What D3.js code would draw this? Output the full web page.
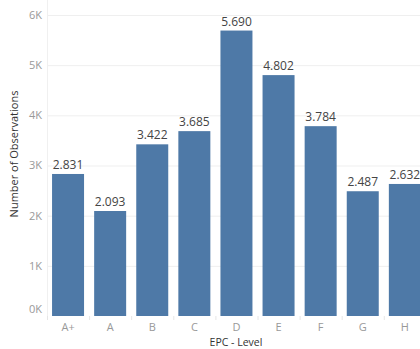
<!DOCTYPE html>
<html>
<head>
<meta charset="utf-8">
<script src="https://cdn.jsdelivr.net/npm/d3@7"></script>
<style>
  body { margin: 0; background: #fff; }
  text { font-family: "Open Sans", "Noto Sans", sans-serif; }
</style>
</head>
<body>
<svg id="chart" width="420" height="349"></svg>
<script>
const levels = ["A+", "A", "B", "C", "D", "E", "F", "G", "H"];
const observations = [2831, 2093, 3422, 3685, 5690, 4802, 3784, 2487, 2632];
const yTicks = [0, 1000, 2000, 3000, 4000, 5000, 6000];

const svg = d3.select("#chart");
const plotLeft = 47, plotBottom = 316, plotTop = 15;

const x = d3.scaleBand()
  .domain(levels)
  .range([plotLeft, plotLeft + 42.1 * levels.length])
  .paddingInner(0.24)
  .paddingOuter(0.12);

const y = d3.scaleLinear()
  .domain([0, 6000])
  .range([plotBottom, plotTop]);

// Gridlines
svg.append("g")
  .selectAll("line")
  .data(yTicks.filter(d => d > 0))
  .enter().append("line")
  .attr("x1", plotLeft).attr("x2", 420)
  .attr("y1", d => y(d) + 0.5).attr("y2", d => y(d) + 0.5)
  .attr("stroke", "#efefef");

// Axis line
svg.append("line")
  .attr("x1", plotLeft + 0.5).attr("x2", plotLeft + 0.5)
  .attr("y1", 0).attr("y2", plotBottom)
  .attr("stroke", "#f0f0f0");

// Y tick labels
svg.append("g")
  .selectAll("text")
  .data(yTicks)
  .enter().append("text")
  .attr("x", plotLeft - 5)
  .attr("y", d => d === 0 ? y(d) - 7 : y(d))
  .attr("dy", "0.35em")
  .attr("text-anchor", "end")
  .attr("font-size", 11)
  .attr("fill", "#999")
  .text(d => (d / 1000) + "K");

// Bars
svg.append("g")
  .selectAll("rect")
  .data(levels)
  .enter().append("rect")
  .attr("x", d => x(d))
  .attr("y", (d, i) => y(observations[i]))
  .attr("width", x.bandwidth())
  .attr("height", (d, i) => plotBottom - y(observations[i]))
  .attr("fill", "#4e79a7");

// Value labels
const fmt = d3.formatLocale({decimal: ",", thousands: ".", grouping: [3], currency: ["", ""]}).format(",");
svg.append("g")
  .selectAll("text")
  .data(levels)
  .enter().append("text")
  .attr("x", d => x(d) + x.bandwidth() / 2)
  .attr("y", (d, i) => y(observations[i]) - 5)
  .attr("text-anchor", "middle")
  .attr("font-size", 12)
  .attr("fill", "#444")
  .text((d, i) => fmt(observations[i]));

// Category separators
const step = x.step();
svg.append("g")
  .selectAll("line")
  .data(levels)
  .enter().append("line")
  .attr("x1", d => x(d) - x.paddingOuter() * step + 0.5)
  .attr("x2", d => x(d) - x.paddingOuter() * step + 0.5)
  .attr("y1", plotBottom).attr("y2", plotBottom + 4)
  .attr("stroke", "#e6e6e6");

// X labels
svg.append("g")
  .selectAll("text")
  .data(levels)
  .enter().append("text")
  .attr("x", d => x(d) + x.bandwidth() / 2)
  .attr("y", 331)
  .attr("text-anchor", "middle")
  .attr("font-size", 11)
  .attr("fill", "#999")
  .text(d => d);

// Axis titles
svg.append("text")
  .attr("x", 236)
  .attr("y", 346)
  .attr("text-anchor", "middle")
  .attr("font-size", 10.5)
  .attr("fill", "#333")
  .text("EPC - Level");

svg.append("text")
  .attr("transform", "translate(18,154) rotate(-90)")
  .attr("text-anchor", "middle")
  .attr("font-size", 11)
  .attr("fill", "#333")
  .text("Number of Observations");
</script>
</body>
</html>
